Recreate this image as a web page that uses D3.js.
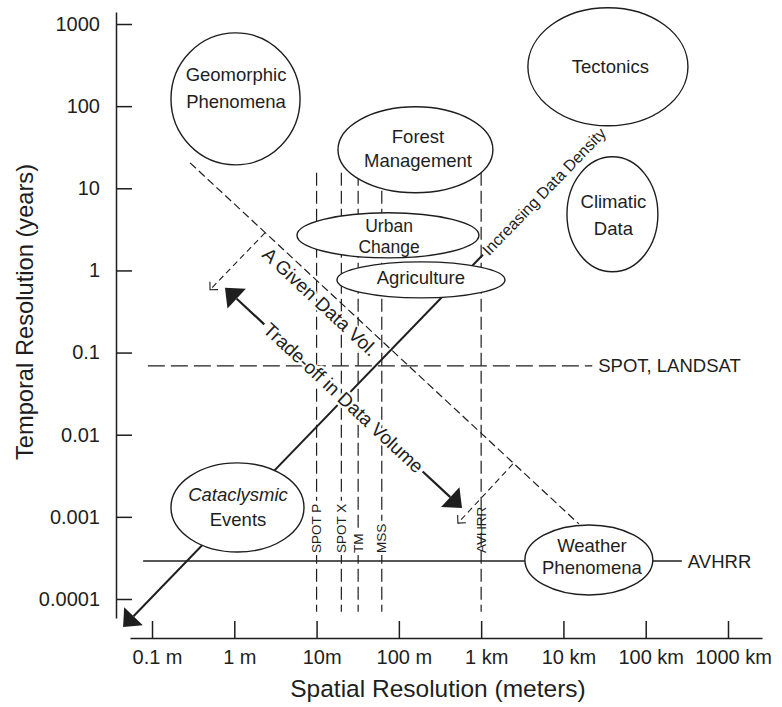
<!DOCTYPE html>
<html><head><meta charset="utf-8">
<script src="https://cdn.jsdelivr.net/npm/d3@7"></script>
<style>
html,body{margin:0;padding:0;background:#fff;}
svg{display:block;}
</style></head><body>
<svg id="chart" width="782" height="707"></svg>
<script>
// ---------------- data ----------------
// axis ticks
const xTickValues = [0.1, 1, 10, 100, 1000, 10000, 100000, 1000000];      // metres
const xTickLabels = ["0.1 m", "1 m", "10m", "100 m", "1 km", "10 km", "100 km", "1000 km"];
const yTickValues = [0.0001, 0.001, 0.01, 0.1, 1, 10, 100, 1000];          // years
const yTickLabels = ["0.0001", "0.001", "0.01", "0.1", "1", "10", "100", "1000"];

// phenomena (ellipses): extent in metres / years, label anchor
const phenNames  = ["Geomorphic\nPhenomena", "Tectonics", "Forest\nManagement", "Urban\nChange",
                    "Agriculture", "Climatic\nData", "Cataclysmic\nEvents", "Weather\nPhenomena"];
const phenXMin   = [0.17, 3700, 18.2, 5.78, 17.7, 11040, 0.17, 3400];
const phenXMax   = [6.3, 326000, 1390, 940, 1945, 140600, 7.03, 122000];
const phenYMin   = [19.3, 57.7, 8.81, 1.42, 0.463, 0.962, 0.000373, 0.000112];
const phenYMax   = [780, 1580, 98.4, 5.04, 1.27, 24.2, 0.00454, 0.000796];
const phenLabelX = [1.05, 37200, 171, 76, 185, 40500, 1.11, 22200];
const phenLabelY = [167, 306, 31, 2.6, 0.82, 4.75, 0.00132, 0.00033];

// sensors: spatial resolution (vertical dashed lines)
const sensorNames = ["SPOT P", "SPOT X", "TM", "MSS", "AVHRR"];
const sensorRes   = [10, 20, 32, 62, 1000];
const sensorYTop = 15.5, sensorYBottom = 0.00007;

// revisit intervals (horizontal lines)
const revisitNames = ["SPOT, LANDSAT", "AVHRR"];
const revisitYears = [0.069, 0.00029];
const revisitFrom  = [0.089, 0.078];
const revisitTo    = [22400, 275000];

// "A Given Data Vol." iso-line
const dataVolLine = [[0.29, 20.4], [15400, 0.00082]];
// small dashed arrows pointing away from the iso-line
const smallArrowFrom = [[2.36, 2.87], [2430, 0.0044]];
const smallArrowTo   = [[0.507, 0.581], [522, 0.00084]];
// trade-off double arrow
const tradeOffEnds = [[0.77, 0.614], [585, 0.00128]];
// increasing data density arrow: [line end near text, arrow tip]
const densityLine = [[1050, 1.55], [0.0445, 0.0000456]];

// ---------------- drawing ----------------
const INK = "#1e1e1e";
const FONT = '"Liberation Sans", Arial, Helvetica, sans-serif';
const svg = d3.select("#chart").attr("font-family", FONT);

const x = d3.scaleLog().domain([0.054, 2.59e6]).range([130, 762]);
const y = d3.scaleLog().domain([5.87e-5, 1400]).range([618, 12]);
const P = d => [x(d[0]), y(d[1])];

// axes
const gy = svg.append("g").attr("transform", "translate(116,0)")
  .call(d3.axisLeft(y).tickValues(yTickValues).tickFormat((d, i) => yTickLabels[i])
        .tickSizeInner(-16).tickSizeOuter(0).tickPadding(16));
gy.attr("font-size", 20).attr("font-family", FONT);
gy.selectAll("path,line").attr("stroke", INK).attr("stroke-width", 1.5);
gy.selectAll("text").attr("fill", INK);

const gx = svg.append("g").attr("transform", "translate(0,638)")
  .call(d3.axisBottom(x).tickValues(xTickValues).tickFormat((d, i) => xTickLabels[i])
        .tickSizeInner(-17).tickSizeOuter(0).tickPadding(12));
gx.attr("font-size", 20).attr("font-family", FONT);
gx.selectAll("path,line").attr("stroke", INK).attr("stroke-width", 1.5);
gx.selectAll("text").attr("fill", INK).attr("dx", 5);

// axis titles
svg.append("text").attr("x", 438).attr("y", 697).attr("text-anchor", "middle")
  .attr("font-size", 24.5).attr("fill", INK).text("Spatial Resolution (meters)");
svg.append("text").attr("transform", "translate(33,312) rotate(-90)").attr("text-anchor", "middle")
  .attr("font-size", 23.7).attr("fill", INK).text("Temporal Resolution (years)");

const lines = svg.append("g");

// sensor verticals
lines.selectAll("line.sensor").data(sensorRes).join("line")
  .attr("x1", d => x(d)).attr("x2", d => x(d))
  .attr("y1", y(sensorYTop)).attr("y2", y(sensorYBottom))
  .attr("stroke", INK).attr("stroke-width", 1.2).attr("stroke-dasharray", "13,5");

// revisit horizontals
lines.selectAll("line.revisit").data(revisitYears).join("line")
  .attr("x1", (d, i) => x(revisitFrom[i])).attr("x2", (d, i) => x(revisitTo[i]))
  .attr("y1", d => y(d)).attr("y2", d => y(d))
  .attr("stroke", INK).attr("stroke-width", 1.3)
  .attr("stroke-dasharray", (d, i) => i === 0 ? "17,6" : null);

// data volume iso-line
const dv0 = P(dataVolLine[0]), dv1 = P(dataVolLine[1]);
lines.append("line").attr("x1", dv0[0]).attr("y1", dv0[1]).attr("x2", dv1[0]).attr("y2", dv1[1])
  .attr("stroke", INK).attr("stroke-width", 1.2).attr("stroke-dasharray", "8,4");

// small dashed arrows with open heads
smallArrowFrom.forEach((f, i) => {
  const a = P(f), b = P(smallArrowTo[i]);
  lines.append("line").attr("x1", a[0]).attr("y1", a[1]).attr("x2", b[0]).attr("y2", b[1])
    .attr("stroke", INK).attr("stroke-width", 1.1).attr("stroke-dasharray", "6,4");
  const ang = Math.atan2(a[1] - b[1], a[0] - b[0]);
  const arm = 8;
  const pts = [ang - Math.PI / 4, ang + Math.PI / 4].map(t => [b[0] + arm * Math.cos(t), b[1] + arm * Math.sin(t)]);
  lines.append("path").attr("d", `M${pts[0]}L${b}L${pts[1]}`)
    .attr("fill", "none").attr("stroke", INK).attr("stroke-width", 1.1);
});

// filled arrowhead helper
function head(tip, from, L = 16, W = 13.5) {
  const dx = tip[0] - from[0], dy = tip[1] - from[1], len = Math.hypot(dx, dy);
  const ux = dx / len, uy = dy / len;
  const bx = tip[0] - ux * L, by = tip[1] - uy * L;
  lines.append("path")
    .attr("d", `M${tip}L${[bx - uy * W, by + ux * W]}L${[bx + uy * W, by - ux * W]}Z`)
    .attr("fill", INK);
  return [bx, by];
}

// increasing data density arrow
const dd0 = P(densityLine[0]), dd1 = P(densityLine[1]);
const ddBack = head(dd1, dd0, 15, 13);
lines.append("line").attr("x1", dd0[0]).attr("y1", dd0[1]).attr("x2", ddBack[0]).attr("y2", ddBack[1])
  .attr("stroke", INK).attr("stroke-width", 2);

// trade-off arrow
const to0 = P(tradeOffEnds[0]), to1 = P(tradeOffEnds[1]);
const toBack0 = head(to0, to1), toBack1 = head(to1, to0);

// ellipses
const ell = svg.append("g");
ell.selectAll("ellipse").data(phenNames).join("ellipse")
  .attr("cx", (d, i) => (x(phenXMin[i]) + x(phenXMax[i])) / 2)
  .attr("cy", (d, i) => (y(phenYMin[i]) + y(phenYMax[i])) / 2)
  .attr("rx", (d, i) => (x(phenXMax[i]) - x(phenXMin[i])) / 2)
  .attr("ry", (d, i) => (y(phenYMin[i]) - y(phenYMax[i])) / 2)
  .attr("fill", "#fff").attr("stroke", INK).attr("stroke-width", 1.4);

// ellipse labels
const labFS = 18.5, cap = labFS * 0.716;
phenNames.forEach((name, i) => {
  const parts = name.split("\n");
  const ry = (y(phenYMin[i]) - y(phenYMax[i])) / 2;
  const s = Math.max(21, Math.min(26.5, 12 + 0.28 * ry));
  const fs = parts[0] === "Urban" ? 17.5 : labFS;
  const cx = x(phenLabelX[i]), cy = y(phenLabelY[i]);
  const base0 = cy + (fs * 0.716 - s * (parts.length - 1)) / 2;
  const t = svg.append("text").attr("text-anchor", "middle").attr("font-size", fs).attr("fill", INK);
  parts.forEach((p, j) => {
    t.append("tspan").attr("x", cx).attr("y", base0 + j * s)
      .attr("font-style", p === "Cataclysmic" ? "italic" : null).text(p);
  });
});

// sensor labels (vertical) – line broken behind label except AVHRR
sensorNames.forEach((n, i) => {
  const g = svg.append("g")
    .attr("transform", `translate(${x(sensorRes[i])},${y(revisitYears[1]) - 8}) rotate(-90)`);
  const r = g.append("rect").attr("fill", "#fff");
  const t = g.append("text").attr("dominant-baseline", "central")
    .attr("font-size", 13.5).attr("fill", INK).text(n);
  if (n !== "AVHRR") {
    const L = t.node().getComputedTextLength();
    r.attr("x", -2).attr("y", -4).attr("width", L + 5).attr("height", 8);
  } else r.remove();
});

// revisit labels
revisitNames.forEach((n, i) => {
  svg.append("text").attr("x", x(revisitTo[i]) + 6).attr("y", y(revisitYears[i]))
    .attr("dominant-baseline", "central").attr("font-size", 18.5).attr("fill", INK).text(n);
});

// "A Given Data Vol." label
{
  const ang = Math.atan2(dv1[1] - dv0[1], dv1[0] - dv0[0]);
  const f = 0.358, off = 13.5;
  const px = dv0[0] + f * (dv1[0] - dv0[0]) - off * Math.sin(ang);
  const py = dv0[1] + f * (dv1[1] - dv0[1]) + off * Math.cos(ang);
  svg.append("text").attr("transform", `translate(${px},${py}) rotate(${ang * 180 / Math.PI})`)
    .attr("text-anchor", "middle").attr("dominant-baseline", "central")
    .attr("font-size", 19).attr("fill", INK)
    .attr("stroke", "#fff").attr("stroke-width", 4).attr("paint-order", "stroke")
    .text("A Given Data Vol.");
}

// trade-off label + split shaft
{
  const ang = Math.atan2(to1[1] - to0[1], to1[0] - to0[0]);
  const mx = (to0[0] + to1[0]) / 2, my = (to0[1] + to1[1]) / 2;
  const t = svg.append("text").attr("transform", `translate(${mx},${my}) rotate(${ang * 180 / Math.PI})`)
    .attr("text-anchor", "middle").attr("dominant-baseline", "central")
    .attr("font-size", 19).attr("fill", INK)
    .attr("stroke", "#fff").attr("stroke-width", 5).attr("paint-order", "stroke")
    .text("Trade-off in Data Volume");
  const half = t.node().getComputedTextLength() / 2 + 3;
  const c = Math.cos(ang), s = Math.sin(ang);
  lines.append("line").attr("x1", toBack0[0]).attr("y1", toBack0[1])
    .attr("x2", mx - half * c).attr("y2", my - half * s)
    .attr("stroke", INK).attr("stroke-width", 2.2);
  lines.append("line").attr("x1", mx + half * c).attr("y1", my + half * s)
    .attr("x2", toBack1[0]).attr("y2", toBack1[1])
    .attr("stroke", INK).attr("stroke-width", 2.2);
}

// increasing data density label
{
  const ang = Math.atan2(dd0[1] - dd1[1], dd0[0] - dd1[0]);
  svg.append("text")
    .attr("transform", `translate(${dd0[0] + 3 * Math.cos(ang)},${dd0[1] + 3 * Math.sin(ang)}) rotate(${ang * 180 / Math.PI})`)
    .attr("dominant-baseline", "central").attr("font-size", 16).attr("fill", INK)
    .text("Increasing Data Density");
}
</script>
</body></html>
